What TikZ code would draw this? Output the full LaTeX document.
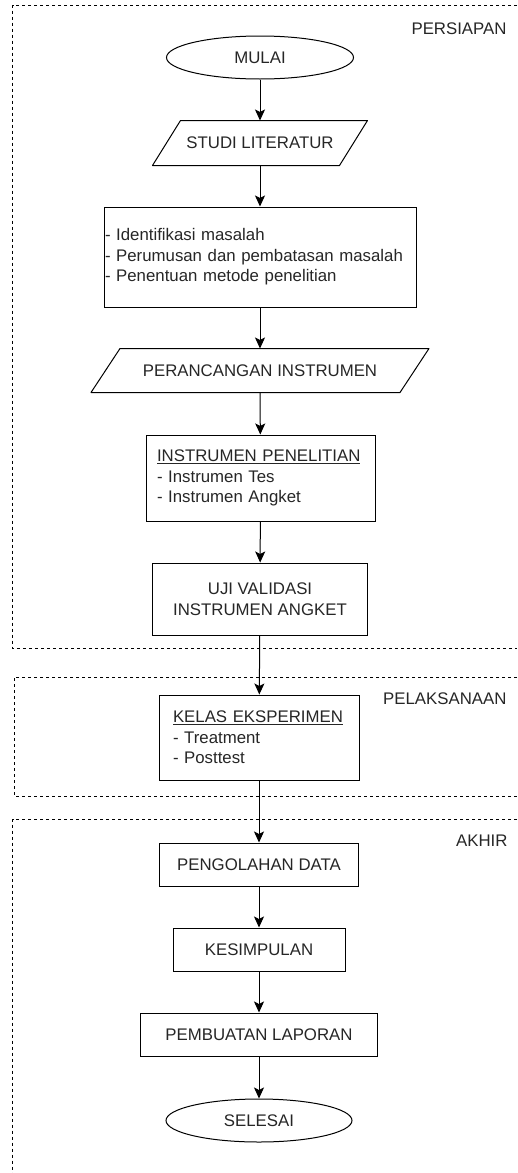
\documentclass[tikz,border=0pt]{standalone}
\usepackage{fontspec}
\setmainfont{Liberation Sans}
\usepackage{tikz}
\usetikzlibrary{shapes.geometric, arrows.meta, positioning}

\tikzset{
	base/.style={draw, line width=1pt, text=black!85, font=\fontsize{16.8}{20.5}\selectfont, inner sep=0pt},
	terminal/.style={base, ellipse, minimum width=187pt, minimum height=43pt},
	io/.style={base, draw=none, rectangle, minimum height=44pt},
	slanted/.style={line width=1pt, line join=round},
	process/.style={base, rectangle, minimum height=43pt},
	zone/.style={line width=0.8pt, dash pattern=on 3pt off 3pt},
	zonelabel/.style={anchor=east, text=black!85, font=\fontsize{16.8}{20.5}\selectfont},
	flow/.style={line width=1pt, -{Stealth[length=11pt, width=10pt, inset=2.5pt]}}
}

\begin{document}
\begin{tikzpicture}[x=1pt, y=-1pt]
		\useasboundingbox (0,0) rectangle (517,1173);
		% Draw zones
		\draw[zone] (517,5) -| (12.5,648) -- (517,648);
		\draw[zone] (517,677) -| (14,796) -- (517,796);
		\draw[zone] (517,819) -| (12.5,1180);
		\node[zonelabel] (persiapan) at (510,29) {PERSIAPAN};
		\node[zonelabel] (pelaksanaan) at (510,699) {PELAKSANAAN};
		\node[zonelabel] (akhir) at (511,841) {AKHIR};
		% Draw steps
		\node[terminal] (mulai) at (260,57.5) {MULAI};
		\node[io, minimum width=186pt] (literatur) at (260,143) {STUDI LITERATUR};
		\draw[slanted] ([xshift=14pt]literatur.north west) -- ([xshift=14pt]literatur.north east)
			-- ([xshift=-14pt]literatur.south east) -- ([xshift=-14pt]literatur.south west) -- cycle;
		\node[process, minimum width=312pt, minimum height=100pt, align=left, text width=310pt, inner xsep=1pt] (masalah) at (260,257)
			{- Identifikasi masalah\\- Perumusan dan pembatasan masalah\\- Penentuan metode penelitian};
		\node[io, minimum width=308pt, minimum height=43pt] (rancang) at (260,370.5) {PERANCANGAN INSTRUMEN};
		\draw[slanted] ([xshift=14.5pt]rancang.north west) -- ([xshift=14.5pt]rancang.north east)
			-- ([xshift=-14.5pt]rancang.south east) -- ([xshift=-14.5pt]rancang.south west) -- cycle;
		\node[process, minimum height=86pt, align=left, text width=207pt, inner xsep=11pt] (instrumen) at (260.5,478)
			{\underline{INSTRUMEN PENELITIAN}\\- Instrumen Tes\\- Instrumen Angket};
		\node[process, minimum width=215pt, minimum height=72pt, align=center] (uji) at (260,599)
			{UJI VALIDASI\\INSTRUMEN ANGKET};
		\node[process, minimum height=85pt, align=left, text width=172pt, inner xsep=14pt] (kelas) at (259,737.5)
			{\underline{KELAS EKSPERIMEN}\\- Treatment\\- Posttest};
		\node[process, minimum width=199pt] (olah) at (259,864.5) {PENGOLAHAN DATA};
		\node[process, minimum width=172pt] (simpul) at (259,949.5) {KESIMPULAN};
		\node[process, minimum width=237pt] (lapor) at (259,1034.5) {PEMBUATAN LAPORAN};
		\node[terminal, minimum width=186pt] (selesai) at (259,1120.5) {SELESAI};
		% Connect steps
		\draw[flow] (mulai) -- (literatur);
		\draw[flow] (literatur) -- (masalah);
		\draw[flow] (masalah) -- (rancang);
		\draw[flow] (rancang) -- (instrumen);
		\draw[flow] (instrumen) -- (uji);
		\draw[flow] (uji) -- (kelas);
		\draw[flow] (kelas) -- (olah);
		\draw[flow] (olah) -- (simpul);
		\draw[flow] (simpul) -- (lapor);
		\draw[flow] (lapor) -- (selesai);
	\end{tikzpicture}
\end{document}
